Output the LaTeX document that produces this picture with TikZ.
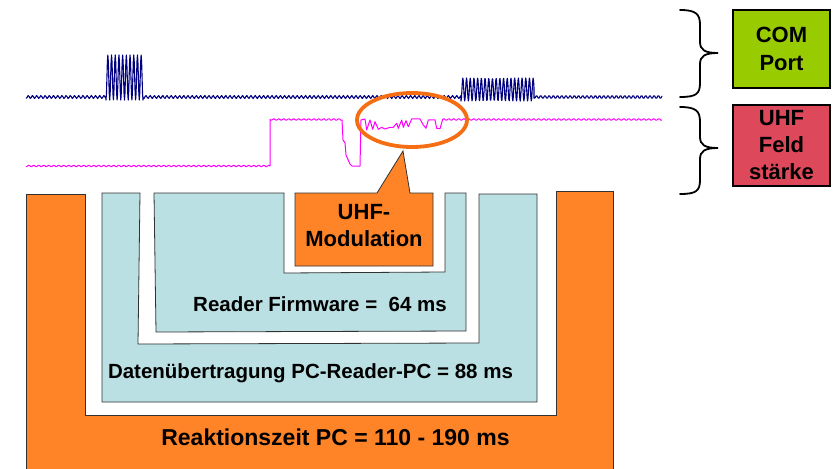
\documentclass[tikz,border=0pt]{standalone}
\usepackage{fontspec}
\setmainfont{Liberation Sans}
\definecolor{boxorange}{RGB}{255,132,40}
\definecolor{ringorange}{RGB}{245,110,20}
\definecolor{paleblue}{RGB}{187,224,227}
\definecolor{comgreen}{RGB}{153,204,0}
\definecolor{uhfred}{RGB}{221,72,90}
\definecolor{navysig}{RGB}{0,0,128}
\definecolor{magsig}{RGB}{255,0,255}
\definecolor{edgegray}{RGB}{50,50,50}
\begin{document}
\begin{tikzpicture}[x=1pt,y=-1pt,
  shapeline/.style={draw=edgegray, line width=0.8pt, line join=miter},
  comsig/.style={draw=navysig, line width=1.1pt, line join=round},
  uhfsig/.style={draw=magsig, line width=1pt, line join=round},
  ring/.style={draw=ringorange, line width=3.8pt},
  bracestyle/.style={draw=black, line width=1.8pt, line cap=round},
  legendbox/.style={draw=black, line width=1.8pt, minimum width=97pt, minimum height=78pt,
    align=center, inner sep=0pt, font=\fontsize{22}{28}\selectfont\bfseries},
  lbl/.style={inner sep=0pt, anchor=base}]
\useasboundingbox (0,0) rectangle (837,468);

% outer orange U : Reaktionszeit PC
\draw[shapeline, fill=boxorange] (26,194) -- (85,194) -- (85,415) -- (556,415) -- (556,191)
  -- (613,191) -- (613,472) -- (26,472) -- cycle;
% light blue U : Datenuebertragung
\draw[shapeline, fill=paleblue] (102,193) -- (140,193) -- (138,344) -- (479,343) -- (479,194)
  -- (537,194) -- (537,402) -- (102,402) -- cycle;
% inner light blue U : Reader Firmware
\draw[shapeline, fill=paleblue] (154,193) -- (284,193) -- (284,273) -- (445,272) -- (445,193)
  -- (466,193) -- (466,331) -- (156,332) -- cycle;
% UHF-Modulation callout
\draw[shapeline, fill=boxorange] (295,193) -- (377,193) -- (403,151) -- (410,193) -- (433,193)
  -- (433,266) -- (295,266) -- cycle;

\node[lbl, font=\fontsize{23}{27}\selectfont\bfseries] (reak) at (335.5,445) {Reaktionszeit PC = 110 - 190 ms};
\node[lbl, font=\fontsize{20.5}{24}\selectfont\bfseries] (daten) at (310.5,378) {Datenübertragung PC-Reader-PC = 88 ms};
\node[lbl, font=\fontsize{20.5}{24}\selectfont\bfseries] (firm) at (320,311) {Reader Firmware =\ \ 64 ms};
\node[inner sep=0pt, align=center, font=\fontsize{22}{27}\selectfont\bfseries] (mod) at (364,225.6) {UHF-\\Modulation};

% COM port signal
\draw[comsig]
  plot[domain=26:106, samples=77] (\x,{97+1.5*sin(mod(\x,4.2)*85.7)})
  -- plot[domain=106:143, samples=81] (\x,{77.5+22.5*cos((\x-106)*97.3)})
  -- plot[domain=143:461, samples=304] (\x,{97+1.5*sin(mod(\x,4.2)*85.7)})
  -- plot[domain=461:534, samples=160] (\x,{89.5+11.5*cos((\x-461)*97.3)})
  -- plot[domain=534:662, samples=123] (\x,{97+1.5*sin(mod(\x,4.2)*85.7)});

% UHF field strength signal
\draw[uhfsig]
  plot[domain=26:270, samples=196] (\x,{166+0.8*sin(mod(\x,5)*72)})
  -- (270,120)
  -- plot[domain=270:342, samples=58] (\x,{119.5+0.8*sin(mod(\x,5)*72)})
  -- (343,140) -- (345,143) -- (346,155) -- (350,164) -- (352,166) -- (360,166) -- (361,120)
  -- (365,119) -- (366.7,130) -- (370,120) -- (372.7,129.3) -- (375,121.7) -- (378.3,129.3)
  -- (381.7,127.3) -- (385,129) -- (390,127.3) -- (393.3,127.3) -- (396.7,123.3) -- (398.3,128.3)
  -- (401.7,120) -- (403.3,127.3) -- (406,120.7) -- (408.3,126.7) -- (411.7,119) -- (420,119)
  -- (423.3,125) -- (426,128.3) -- (428.3,120) -- (435,120) -- (436.7,128.3) -- (440,128.7)
  -- (442.7,119.3)
  -- plot[domain=443:662, samples=176] (\x,{119.5+0.8*sin(mod(\x,5)*72)});

% highlight ring
\draw[ring] (412,120) ellipse [x radius=55pt, y radius=27pt];

% braces
\draw[bracestyle] (680,10) .. controls (696,10) and (700,14) .. (700,25) -- (700,42)
  .. controls (700,50) and (705,53) .. (718,53) .. controls (705,53) and (700,56) .. (700,64)
  -- (700,83) .. controls (700,94) and (696,97) .. (680,97);
\draw[bracestyle] (680,107) .. controls (696,107) and (700,111) .. (700,122) -- (700,137)
  .. controls (700,145) and (705,148) .. (718,148) .. controls (705,148) and (700,151) .. (700,159)
  -- (700,180) .. controls (700,191) and (696,194) .. (680,194);

% legend boxes
\node[legendbox, fill=comgreen] (com) at (781.5,49) {COM\\Port};
\node[legendbox, fill=uhfred, minimum height=81pt, font=\fontsize{22}{27}\selectfont\bfseries] (uhf) at (781.5,145.5) {UHF\\Feld\\stärke};
\end{tikzpicture}
\end{document}
